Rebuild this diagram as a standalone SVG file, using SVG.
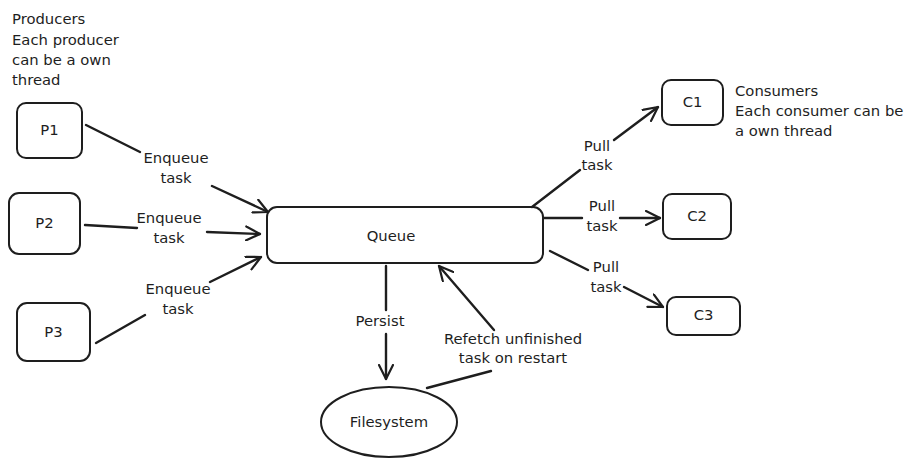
<svg xmlns="http://www.w3.org/2000/svg" width="920" height="468" viewBox="0 0 920 468">
<defs>
<marker id="arr" viewBox="0 0 16 16" refX="15" refY="8" markerWidth="16" markerHeight="16" markerUnits="userSpaceOnUse" orient="auto">
<path d="M1,1 L15,8 L1,15" fill="none" stroke="#1e1e1e" stroke-width="2.2" stroke-linecap="round" stroke-linejoin="round"/>
</marker>
<style>
.box{fill:#fff;stroke:#1e1e1e;stroke-width:2}
.ln{fill:none;stroke:#1e1e1e;stroke-width:2.4;stroke-linecap:round}
.t{font-family:"DejaVu Sans",sans-serif;font-size:14.8px;fill:#1e1e1e}
.c{text-anchor:middle}
</style>
</defs>
<rect width="920" height="468" fill="#fff"/>
<g id="note-producers">
<text class="t" x="12" y="24">Producers</text>
<text class="t" x="12" y="45">Each producer</text>
<text class="t" x="12" y="65">can be a own</text>
<text class="t" x="12" y="85">thread</text>
</g>
<g id="note-consumers">
<text class="t" x="735" y="96">Consumers</text>
<text class="t" x="735" y="116">Each consumer can be</text>
<text class="t" x="735" y="136">a own thread</text>
</g>
<g id="P1"><rect class="box" x="17" y="103" width="65" height="55" rx="9"/><text class="t c" x="49.5" y="135">P1</text></g>
<g id="P2"><rect class="box" x="9" y="193" width="71" height="61" rx="10"/><text class="t c" x="44.5" y="228">P2</text></g>
<g id="P3"><rect class="box" x="17" y="303" width="73" height="58" rx="10"/><text class="t c" x="53.5" y="337">P3</text></g>
<g id="Queue"><rect class="box" x="267" y="207" width="276" height="56" rx="10"/><text class="t c" x="391" y="241">Queue</text></g>
<g id="Filesystem"><ellipse class="box" cx="389" cy="422" rx="68" ry="35"/><text class="t c" x="389" y="427">Filesystem</text></g>
<g id="C1"><rect class="box" x="662" y="80" width="61" height="45" rx="9"/><text class="t c" x="692.5" y="107">C1</text></g>
<g id="C2"><rect class="box" x="663" y="194" width="68" height="45" rx="9"/><text class="t c" x="697" y="221">C2</text></g>
<g id="C3"><rect class="box" x="667" y="297" width="73" height="38" rx="9"/><text class="t c" x="703.5" y="320">C3</text></g>
<g id="connectors">
<path class="ln" d="M86,125 L140,152"/>
<path class="ln" d="M212,186 L268,212" marker-end="url(#arr)"/>
<path class="ln" d="M85,225 L137,228"/>
<path class="ln" d="M207,232 L260,234" marker-end="url(#arr)"/>
<path class="ln" d="M96,343 L145,315"/>
<path class="ln" d="M210,282 L261,257" marker-end="url(#arr)"/>
<path class="ln" d="M532,207 L580,170"/>
<path class="ln" d="M614,140 L658,107" marker-end="url(#arr)"/>
<path class="ln" d="M544,218 L582,218"/>
<path class="ln" d="M620,218 L660,218" marker-end="url(#arr)"/>
<path class="ln" d="M550,251 L588,270"/>
<path class="ln" d="M624,287 L663,307" marker-end="url(#arr)"/>
<path class="ln" d="M386,266 L386,310"/>
<path class="ln" d="M386,334 L386,379" marker-end="url(#arr)"/>
<path class="ln" d="M427,388 L491,371"/>
<path class="ln" d="M494,330 L439,266" marker-end="url(#arr)"/>
</g>
<g id="labels">
<text class="t c" x="176" y="163">Enqueue</text>
<text class="t c" x="176" y="183">task</text>
<text class="t c" x="169" y="223">Enqueue</text>
<text class="t c" x="169" y="243">task</text>
<text class="t c" x="178" y="294">Enqueue</text>
<text class="t c" x="178" y="314">task</text>
<text class="t c" x="597" y="151">Pull</text>
<text class="t c" x="597" y="170">task</text>
<text class="t c" x="602" y="211">Pull</text>
<text class="t c" x="602" y="231">task</text>
<text class="t c" x="606" y="272">Pull</text>
<text class="t c" x="606" y="292">task</text>
<text class="t c" x="380" y="326">Persist</text>
<text class="t c" x="513" y="344">Refetch unfinished</text>
<text class="t c" x="513" y="363">task on restart</text>
</g>
</svg>
